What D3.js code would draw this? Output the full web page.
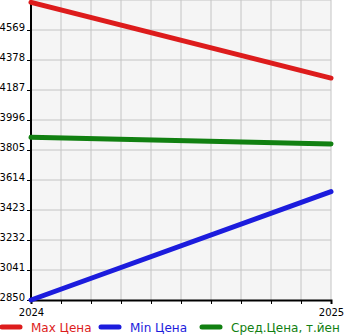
<!DOCTYPE html>
<html>
<head>
<meta charset="utf-8">
<script src="https://cdn.jsdelivr.net/npm/d3@7"></script>
<style>
  body { margin: 0; background: #fff; }
  text { font-family: "DejaVu Sans", sans-serif; }
</style>
</head>
<body>
<div id="container"></div>
<script>
/* DATA */
const years = [2024, 2025];
const maxPrice = [4745, 4263];
const minPrice = [2850, 3540];
const avgPrice = [3886, 3843];
const yTicks = [2850, 3041, 3232, 3423, 3614, 3805, 3996, 4187, 4378, 4569];
const seriesNames = ["Max Цена", "Min Цена", "Сред.Цена, т.йен"];
const seriesColors = ["#dd1c1c", "#1c1cdd", "#118011"];

/* CONSTANTS */
const width = 345, height = 335;
const margin = {top: 0, left: 31, right: 14, bottom: 35};

const svg = d3.select("#container").append("svg")
    .attr("width", width)
    .attr("height", height);

/* SCALES */
const xScale = d3.scaleLinear()
    .domain([years[0], years[1]])
    .range([margin.left, width - margin.right]);

const yScale = d3.scaleLinear()
    .domain([2850, 4760])
    .range([height - margin.bottom, margin.top]);

// plot background
svg.append("rect")
    .attr("x", margin.left)
    .attr("y", margin.top)
    .attr("width", xScale.range()[1] - margin.left)
    .attr("height", yScale.range()[0] - margin.top)
    .attr("fill", "#f5f5f5");

// grid
const xGrid = d3.range(11).map(i => years[0] + i / 10);
svg.append("g").selectAll("line")
    .data(xGrid.slice(1))
    .join("line")
    .attr("x1", d => xScale(d)).attr("x2", d => xScale(d))
    .attr("y1", margin.top).attr("y2", yScale.range()[0])
    .attr("stroke", "#c4c4c4").attr("stroke-width", 1);

svg.append("g").selectAll("line")
    .data(yTicks.slice(1).concat([4760]))
    .join("line")
    .attr("x1", margin.left).attr("x2", xScale.range()[1])
    .attr("y1", d => yScale(d)).attr("y2", d => yScale(d))
    .attr("stroke", "#c4c4c4").attr("stroke-width", 1);

// axes
const xAxis = d3.axisBottom(xScale)
    .tickValues(xGrid)
    .tickSize(4)
    .tickFormat(d => (Math.abs(d - 2024) < 1e-9 || Math.abs(d - 2025) < 1e-9) ? d3.format("d")(d) : "");

svg.append("g")
    .attr("transform", `translate(0, ${yScale.range()[0]})`)
    .call(xAxis)
    .call(g => g.select(".domain").attr("stroke", "#000").attr("stroke-width", 2))
    .call(g => g.selectAll("text").attr("font-size", 10).attr("fill", "#000").attr("dy", "0.9em"));

const yAxis = d3.axisLeft(yScale)
    .tickValues(yTicks)
    .tickSize(4)
    .tickFormat(d3.format("d"));

svg.append("g")
    .attr("transform", `translate(${margin.left}, 0)`)
    .call(yAxis)
    .call(g => g.select(".domain").attr("stroke", "#000").attr("stroke-width", 2).attr("d", `M0,${margin.top}V${yScale.range()[0]}`))
    .call(g => g.selectAll("text").attr("font-size", 10).attr("fill", "#000").attr("dy", "0").attr("x", -6));

/* LINES */
const line = d3.line()
    .x((d, i) => xScale(years[i]))
    .y(d => yScale(d));

[maxPrice, minPrice, avgPrice].forEach((series, i) => {
  svg.append("path")
      .datum(series)
      .attr("d", line)
      .attr("fill", "none")
      .attr("stroke", seriesColors[i])
      .attr("stroke-width", 5)
      .attr("stroke-linecap", "round");
});

/* LEGEND */
const legendX = [0, 99, 200];
seriesNames.forEach((name, i) => {
  svg.append("line")
      .attr("x1", legendX[i] + 2).attr("x2", legendX[i] + 20)
      .attr("y1", 327).attr("y2", 327)
      .attr("stroke", seriesColors[i])
      .attr("stroke-width", 5)
      .attr("stroke-linecap", "round");
  svg.append("text")
      .attr("x", legendX[i] + 31)
      .attr("y", 332)
      .attr("font-size", 12)
      .attr("fill", seriesColors[i])
      .text(name);
});
</script>
</body>
</html>
